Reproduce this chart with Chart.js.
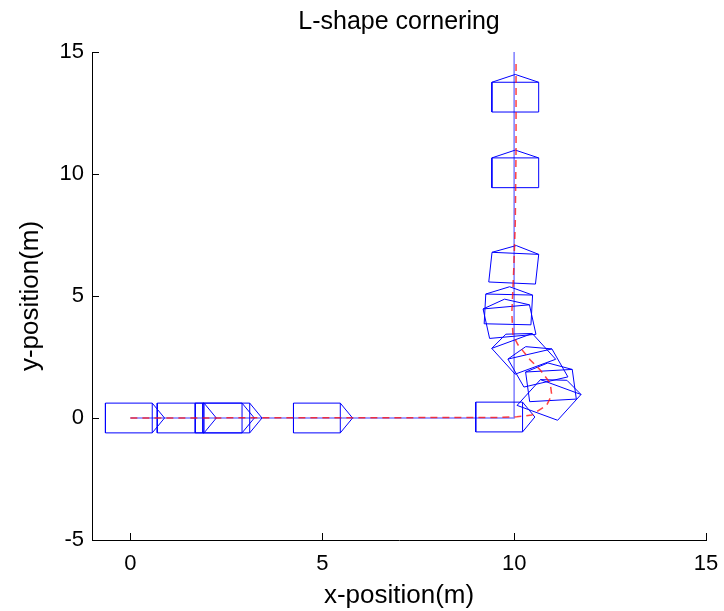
<!DOCTYPE html>
<html>
<head>
<meta charset="utf-8">
<script src="https://cdn.jsdelivr.net/npm/chart.js@4.4.0/dist/chart.umd.min.js"></script>
<style>
  html, body { margin: 0; padding: 0; background: #fff; }
  #wrap { width: 724px; height: 611px; }
</style>
</head>
<body>
<div id="wrap"><canvas id="chart" width="724" height="611"></canvas></div>
<script>
const chartTitle = 'L-shape cornering';

// reference path (blue)
const refX = [0, 10, 10];
const refY = [0, 0, 15];

// driven trajectory (red dashed)
const trajX = [0, 9.6, 10.07, 10.46, 10.85, 10.98, 10.94, 10.68, 10.42, 10.1, 9.97, 9.94, 9.96, 9.99, 10.03, 10.05, 10.05];
const trajY = [0, 0.02, 0.05, 0.12, 0.53, 0.94, 1.43, 1.97, 2.38, 3.0, 3.4, 4.3, 5.0, 6.1, 8.0, 11.0, 14.7];

// vehicle snapshots: centre (m) and heading (deg)
const carX = [-0.04, 1.31, 2.30, 2.50, 4.86, 9.61, 10.91, 10.96, 10.62, 10.25, 9.88, 9.85, 9.99, 10.03, 10.03];
const carY = [0, 0, 0, 0, 0, 0.04, 0.74, 1.33, 2.05, 2.63, 3.95, 4.45, 6.14, 10.05, 13.15];
const carHeading = [0, 0, 0, 0, 0, 0, 60, 95, 110, 120, 98, 88, 86, 90, 90];

const xTicks = [0, 5, 10, 15];
const yTicks = [-5, 0, 5, 10, 15];

const FONT = '"Liberation Sans", Arial, sans-serif';
const HALF = 0.61;  // half size of the car body
const TIP = 0.93;   // nose tip distance from centre

function carOutline(cx, cy, deg) {
  const t = deg * Math.PI / 180, c = Math.cos(t), s = Math.sin(t);
  const pt = (a, b) => ({ x: cx + a * c - b * s, y: cy + a * s + b * c });
  const fl = pt(HALF, HALF), fr = pt(HALF, -HALF);
  const rl = pt(-HALF, HALF), rr = pt(-HALF, -HALF);
  const tip = pt(TIP, 0);
  return [fl, tip, fr, fl, rl, rr, fr];
}

const lineSet = (data, color, width, dash) => ({
  data, showLine: true, borderColor: color, borderWidth: width,
  borderDash: dash || [], pointRadius: 0, fill: false, tension: 0
});

const datasets = [];
datasets.push(lineSet(trajX.map((x, i) => ({ x, y: trajY[i] })), 'rgba(255,20,20,0.8)', 1.5, [7, 5]));
carX.forEach((x, i) => datasets.push(lineSet(carOutline(x, carY[i], carHeading[i]), '#0000ff', 1)));
datasets.push(lineSet(refX.map((x, i) => ({ x, y: refY[i] })), 'rgba(40,40,255,0.6)', 1.5));

const inTicks = {
  id: 'inTicks',
  afterDraw(chart) {
    const { ctx, chartArea: a, scales: { x, y } } = chart;
    ctx.save();
    ctx.strokeStyle = '#000';
    ctx.lineWidth = 1;
    ctx.beginPath();
    x.ticks.forEach(t => {
      const px = Math.round(x.getPixelForValue(t.value)) + 0.5;
      ctx.moveTo(px, a.bottom);
      ctx.lineTo(px, a.bottom - 7);
    });
    y.ticks.forEach(t => {
      const py = Math.round(y.getPixelForValue(t.value)) + 0.5;
      ctx.moveTo(a.left, py);
      ctx.lineTo(a.left + 7, py);
    });
    ctx.stroke();
    ctx.fillStyle = '#000';
    ctx.font = '25px ' + FONT;
    ctx.textAlign = 'center';
    ctx.textBaseline = 'middle';
    ctx.fillText(chartTitle, (a.left + a.right) / 2, 22);
    ctx.restore();
  }
};

new Chart(document.getElementById('chart'), {
  type: 'scatter',
  data: { datasets },
  options: {
    responsive: false,
    animation: false,
    layout: { padding: { top: 52, right: 18, left: 0, bottom: 0 } },
    plugins: { legend: { display: false }, tooltip: { enabled: false } },
    scales: {
      x: {
        type: 'linear', min: -1, max: 15,
        afterBuildTicks: s => { s.ticks = xTicks.map(v => ({ value: v })); },
        afterFit: s => { s.height = 71; s.paddingLeft = 0; s.paddingRight = 0; },
        grid: { display: false, drawTicks: false },
        border: { display: true, color: '#000', width: 1 },
        ticks: { color: '#000', font: { family: FONT, size: 22 }, padding: 11, maxRotation: 0 },
        title: { display: true, text: 'x-position(m)', color: '#000', font: { family: FONT, size: 26 }, padding: { top: 0, bottom: 0 } }
      },
      y: {
        type: 'linear', min: -5, max: 15,
        afterBuildTicks: s => { s.ticks = yTicks.map(v => ({ value: v })); },
        afterFit: s => { s.width = 92; s.paddingTop = 0; s.paddingBottom = 0; },
        grid: { display: false, drawTicks: false },
        border: { display: true, color: '#000', width: 1 },
        ticks: { color: '#000', font: { family: FONT, size: 22 }, padding: 8 },
        title: { display: true, text: 'y-position(m)', color: '#000', font: { family: FONT, size: 26 }, padding: { top: 15, bottom: 0 } }
      }
    }
  },
  plugins: [inTicks]
});
</script>
</body>
</html>
